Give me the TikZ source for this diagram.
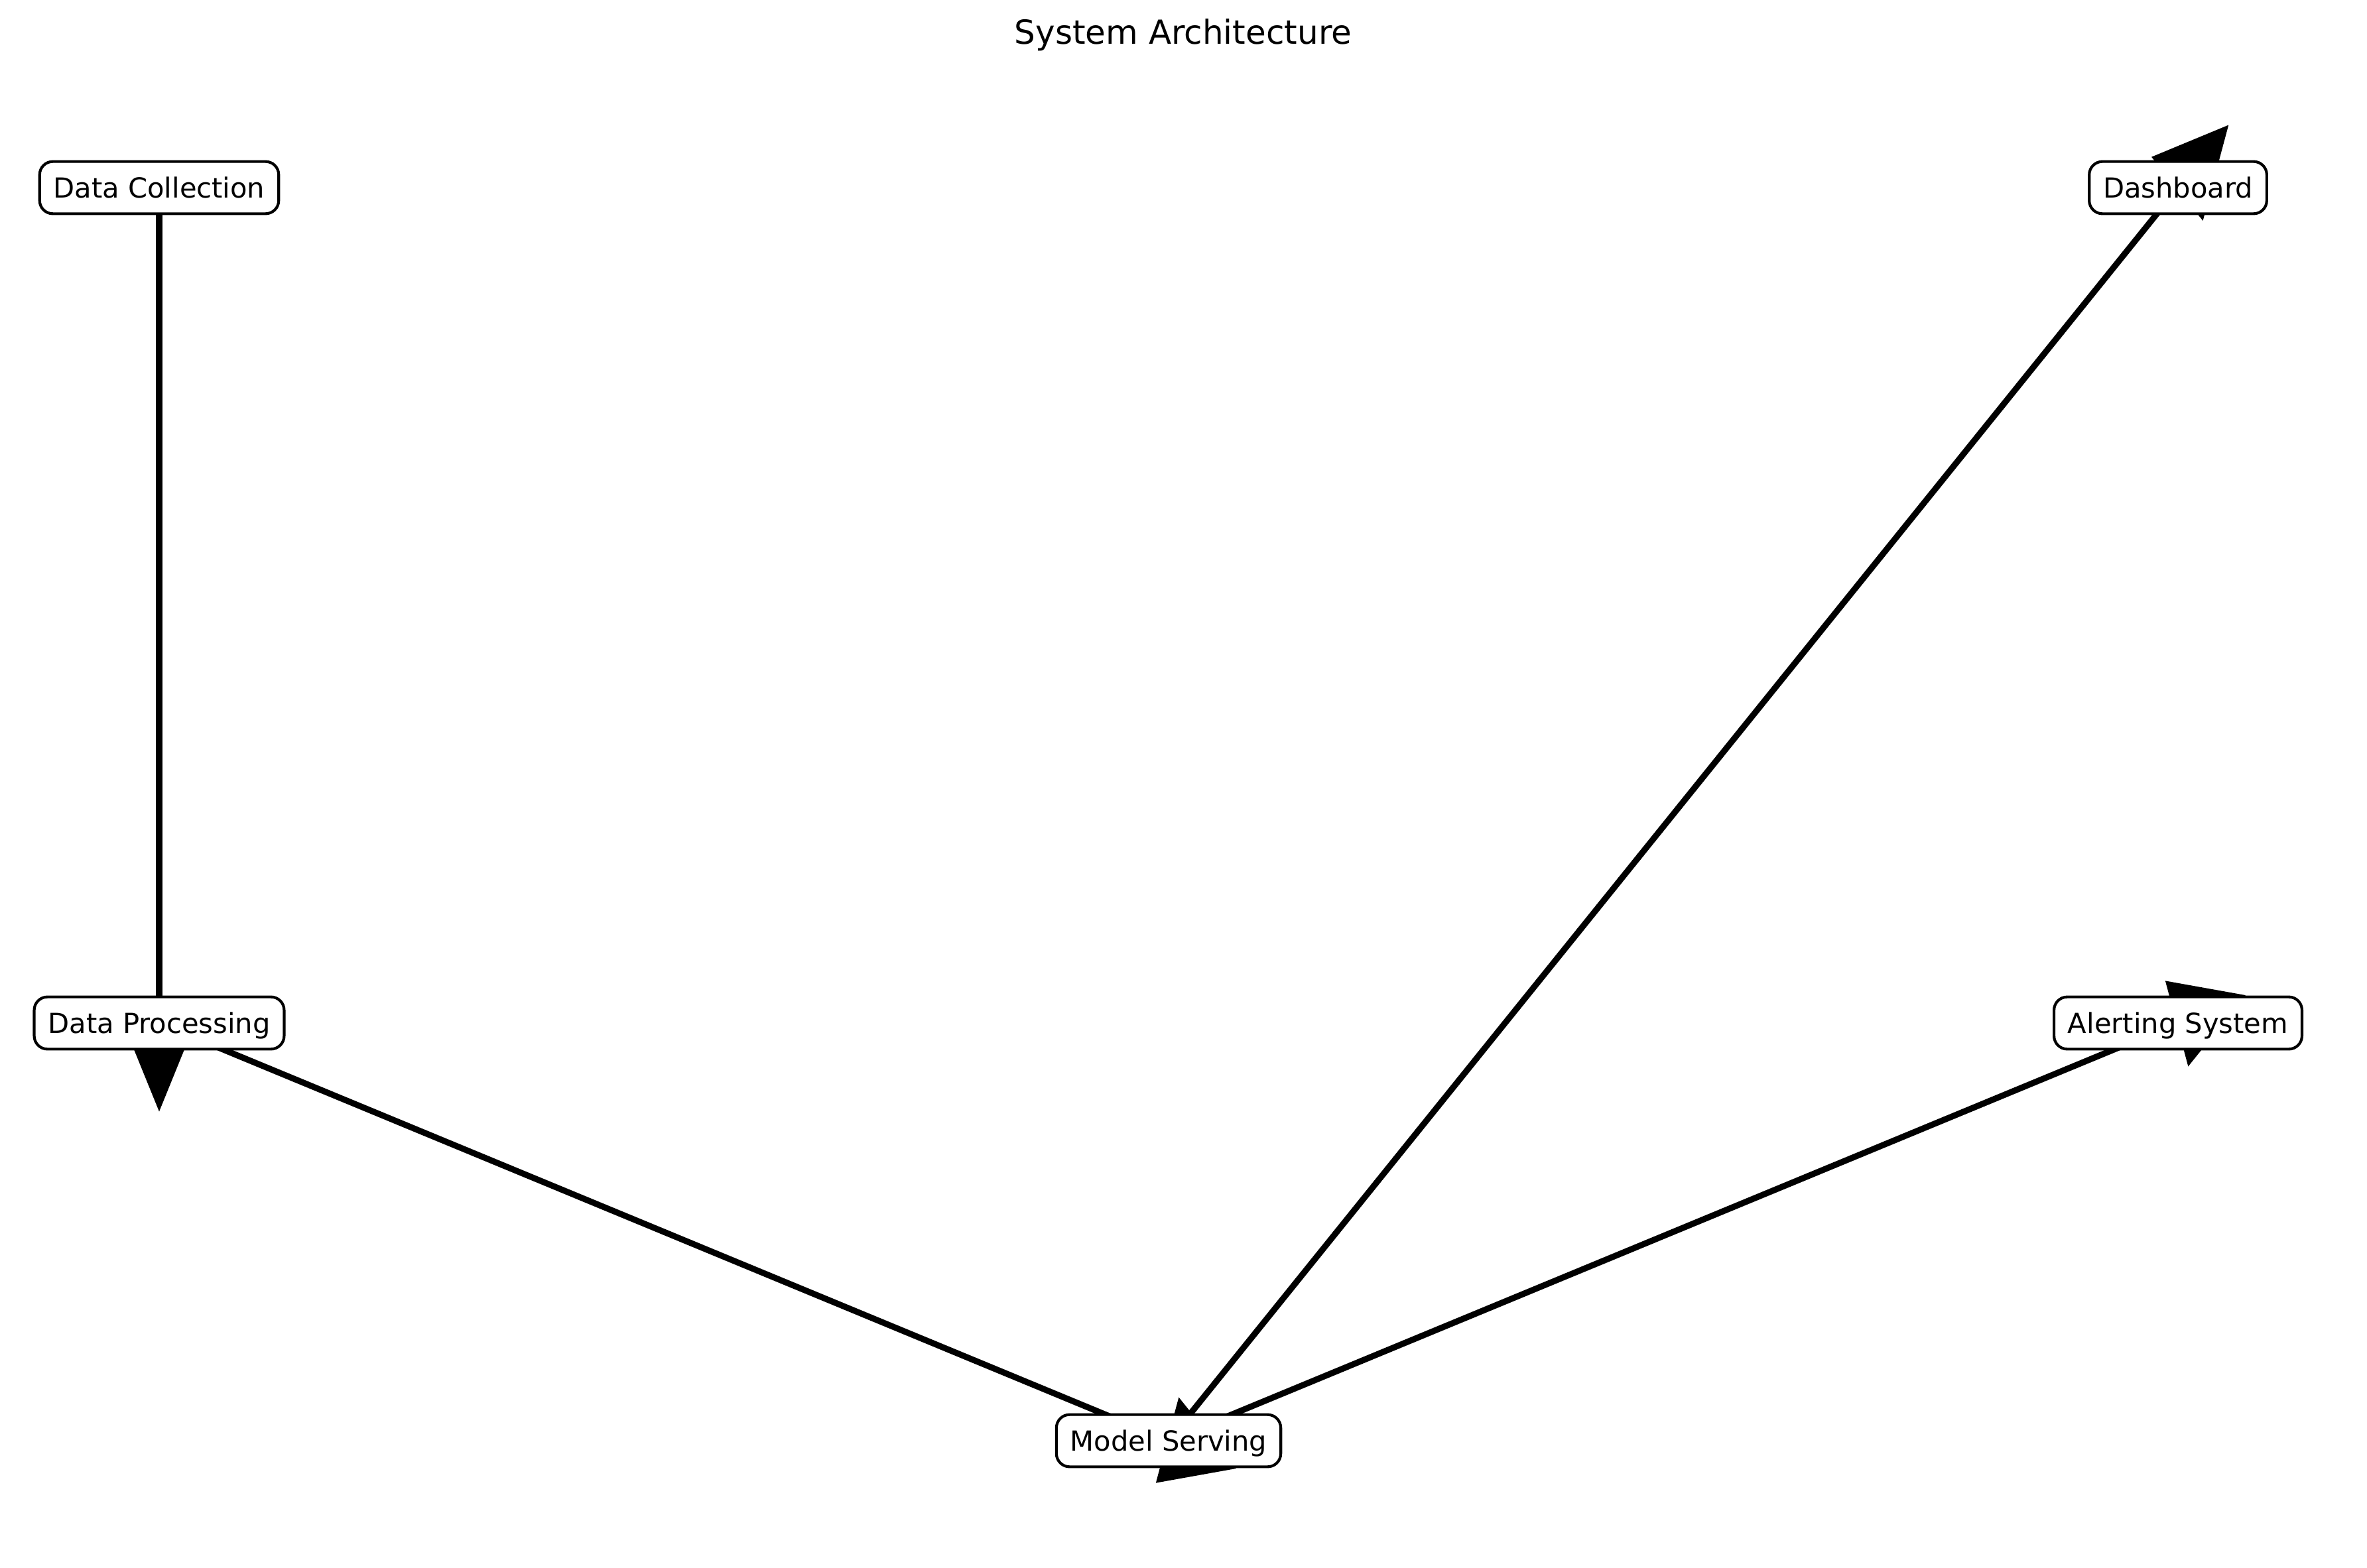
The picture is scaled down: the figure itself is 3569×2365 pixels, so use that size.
\documentclass[tikz,border=0pt]{standalone}
\usepackage{fontspec}
\setmainfont{DejaVu Sans}
\usetikzlibrary{calc}
\pgfdeclarelayer{bg}
\pgfsetlayers{bg,main}
\tikzset{
  box/.style={draw, line width=1pt, rounded corners=4.8pt, fill=white,
    font=\fontsize{10}{12}\selectfont, inner xsep=5pt, inner ysep=5.8pt,
    text height=7.3pt, text depth=0pt},
  shaft/.style={line width=2.2pt},
  head/.style={fill=black, draw=black, line width=1pt, line join=miter},
}
\begin{document}
\begin{tikzpicture}[x=0.24pt, y=-0.24pt]
\useasboundingbox (0,0) rectangle (3569,2365);
\node[font=\fontsize{12}{14}\selectfont, anchor=base] (title) at (1784,67) {System Architecture};
\node[box] (dc) at (240,283) {Data Collection};
\node[box] (dp) at (240,1543) {Data Processing};
\node[box] (ms) at (1762,2173) {Model Serving};
\node[box] (as) at (3284,1543) {Alerting System};
\node[box] (db) at (3284,283) {Dashboard};
\begin{pgfonlayer}{bg}
\draw[shaft] (dc.center) -- (dp.center);
\filldraw[head] ($(dp.center)+(-52,0)$) -- ($(dp.center)+(0,128)$) -- ($(dp.center)+(52,0)$) -- cycle;
\draw[shaft] (dp.center) -- (ms.center);
\filldraw[head] ($(ms.center)+(16.3,-61)$) -- ($(ms.center)+(98,40.5)$) -- ($(ms.center)+(-16.3,61)$) -- cycle;
\draw[shaft] (ms.center) -- (as.center);
\filldraw[head] ($(as.center)+(-16.3,-61)$) -- ($(as.center)+(98,-40.5)$) -- ($(as.center)+(16.3,61)$) -- cycle;
\draw[shaft] (ms.center) -- (db.center);
\filldraw[head] ($(db.center)+(-36.6,-45.4)$) -- ($(db.center)+(73.1,-90.9)$) -- ($(db.center)+(36.6,45.4)$) -- cycle;
\end{pgfonlayer}
\end{tikzpicture}
\end{document}
